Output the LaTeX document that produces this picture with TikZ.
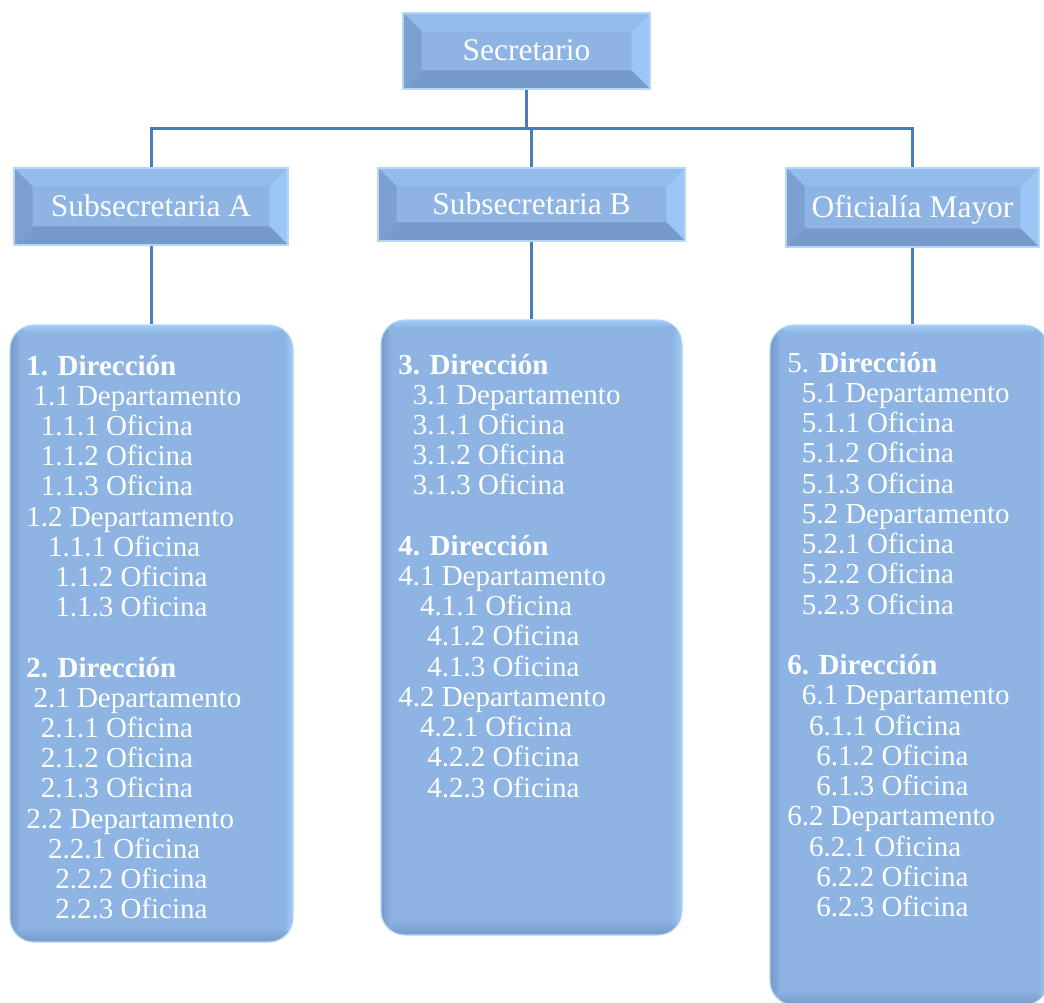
\documentclass[tikz,border=0pt]{standalone}
\usepackage{fontspec}
\setmainfont{Liberation Serif}
\usetikzlibrary{calc}

\definecolor{boxmain}{RGB}{141,180,226}
\definecolor{boxlight}{RGB}{160,203,248}
\definecolor{boxtop}{RGB}{147,188,234}
\definecolor{boxright}{RGB}{155,198,245}
\definecolor{boxdark}{RGB}{118,155,202}
\definecolor{boxleft}{RGB}{124,160,207}
\definecolor{boxedge}{RGB}{182,214,246}
\definecolor{linkblue}{RGB}{74,126,185}

\newcommand\orgTopFont{\fontsize{23.6pt}{28pt}\selectfont}
\newcommand\orgListFont{\fontsize{21.75pt}{26pt}\selectfont}

\tikzset{
  % bevelled title box
  bevelbox/.style={rectangle, inner sep=0pt, fill=boxmain, draw=boxedge,
    line width=0.8pt, text=white, font=\orgTopFont,
    text height=15pt, text depth=0pt,
    path picture={
      \path (path picture bounding box.south west) coordinate (psw)
            (path picture bounding box.north east) coordinate (pne)
            (psw |- pne) coordinate (pnw)
            (pne |- psw) coordinate (pse);
      \fill[boxtop]   (pnw) -- (pne) -- ($(pne)+(-14pt,-14pt)$) -- ($(pnw)+(14pt,-14pt)$) -- cycle;
      \fill[boxright] (pne) -- (pse) -- ($(pse)+(-14pt,14pt)$) -- ($(pne)+(-14pt,-14pt)$) -- cycle;
      \fill[boxdark]  (pse) -- (psw) -- ($(psw)+(14pt,14pt)$) -- ($(pse)+(-14pt,14pt)$) -- cycle;
      \fill[boxleft]  (psw) -- (pnw) -- ($(pnw)+(14pt,-14pt)$) -- ($(psw)+(14pt,14pt)$) -- cycle;
    }},
  % rounded list panel
  listbox/.style={rectangle, rounded corners=18pt, inner sep=0pt, fill=boxmain,
    draw=boxedge, line width=0.8pt,
    path picture={
      \path (path picture bounding box.south west) coordinate (psw)
            (path picture bounding box.north east) coordinate (pne)
            (psw |- pne) coordinate (pnw)
            (pne |- psw) coordinate (pse);
      \shade[left color=boxdark, right color=boxmain] (psw) rectangle ($(pnw)+(9pt,0)$);
      \shade[left color=boxmain, right color=boxlight] ($(pse)+(-7pt,0)$) rectangle (pne);
      \shade[top color=boxmain, bottom color=boxdark] (psw) rectangle ($(pse)+(0,12pt)$);
      \shade[top color=boxlight, bottom color=boxmain] ($(pnw)+(0,-6pt)$) rectangle (pne);
    }},
  listtext/.style={text=white, font=\orgListFont, inner sep=0pt, anchor=base west},
  link/.style={draw=linkblue, line width=2.25pt},
}

\begin{document}
\begin{tikzpicture}[x=0.75pt, y=-0.75pt]
  \useasboundingbox (0,0) rectangle (1044,1002);
  \clip (0,0) rectangle (1044,1002);

  % title boxes
  \node[bevelbox, minimum width=185.25pt, minimum height=57pt]    (sec)  at (526.5,51)  {Secretario};
  \node[bevelbox, minimum width=205.5pt,  minimum height=57.75pt] (subA) at (151,206.5)  {Subsecretaria A};
  \node[bevelbox, minimum width=230.25pt, minimum height=54.75pt] (subB) at (531.5,204.5) {Subsecretaria B};
  \node[bevelbox, minimum width=189.75pt, minimum height=59.25pt] (subO) at (912.5,207.5) {Oficialía Mayor};

  % panels
  \node[listbox, minimum width=212.25pt, minimum height=462.75pt] (dirA) at (151.5,633.5) {};
  \node[listbox, minimum width=225.75pt, minimum height=461.25pt] (dirB) at (531.5,627.5) {};
  \node[listbox, minimum width=208.5pt,  minimum height=510pt]    (dirC) at (909,665)     {};

  % connectors
  \coordinate (bus) at (527,129);
  \draw[link] (sec.south) -- (sec.south |- bus);
  \draw[link] (subA.north) -- (subA.north |- bus) -- (subO.north |- bus) -- (subO.north);
  \draw[link] (subB.north) -- (subB.north |- bus);
  \draw[link] (subA.south) -- (subA.south |- dirA.north);
  \draw[link] (subB.south) -- (subB.south |- dirB.north);
  \draw[link] (subO.south) -- (subO.south |- dirC.north);

  % panel A text
  \foreach \ind/\txt [count=\i from 0] in {
      0/{\bfseries 1. Dirección}, 1/1.1 Departamento, 2/1.1.1 Oficina,
      2/1.1.2 Oficina, 2/1.1.3 Oficina, 0/1.2 Departamento,
      3/1.1.1 Oficina, 4/1.1.2 Oficina, 4/1.1.3 Oficina}
    \node[listtext] (ta\i) at ({26+7.25*\ind},{375+30.22*\i}) {\txt};
  \foreach \ind/\txt [count=\i from 0] in {
      0/{\bfseries 2. Dirección}, 1/2.1 Departamento, 2/2.1.1 Oficina,
      2/2.1.2 Oficina, 2/2.1.3 Oficina, 0/2.2 Departamento,
      3/2.2.1 Oficina, 4/2.2.2 Oficina, 4/2.2.3 Oficina}
    \node[listtext] (tb\i) at ({26+7.25*\ind},{677+30.22*\i}) {\txt};

  % panel B text
  \foreach \ind/\txt [count=\i from 0] in {
      0/{\bfseries 3. Dirección}, 2/3.1 Departamento, 2/3.1.1 Oficina,
      2/3.1.2 Oficina, 2/3.1.3 Oficina}
    \node[listtext] (tc\i) at ({398+7.25*\ind},{374+30.22*\i}) {\txt};
  \foreach \ind/\txt [count=\i from 0] in {
      0/{\bfseries 4. Dirección}, 0/4.1 Departamento, 3/4.1.1 Oficina,
      4/4.1.2 Oficina, 4/4.1.3 Oficina, 0/4.2 Departamento,
      3/4.2.1 Oficina, 4/4.2.2 Oficina, 4/4.2.3 Oficina}
    \node[listtext] (td\i) at ({398+7.25*\ind},{555.3+30.22*\i}) {\txt};

  % panel C text
  \foreach \ind/\txt [count=\i from 0] in {
      0/{5. \textbf{Dirección}}, 2/5.1 Departamento, 2/5.1.1 Oficina,
      2/5.1.2 Oficina, 2/5.1.3 Oficina, 2/5.2 Departamento,
      2/5.2.1 Oficina, 2/5.2.2 Oficina, 2/5.2.3 Oficina}
    \node[listtext] (te\i) at ({787+7.25*\ind},{372+30.25*\i}) {\txt};
  \foreach \ind/\txt [count=\i from 0] in {
      0/{\bfseries 6. Dirección}, 2/6.1 Departamento, 3/6.1.1 Oficina,
      4/6.1.2 Oficina, 4/6.1.3 Oficina, 0/6.2 Departamento,
      3/6.2.1 Oficina, 4/6.2.2 Oficina, 4/6.2.3 Oficina}
    \node[listtext] (tf\i) at ({787+7.25*\ind},{674.5+30.25*\i}) {\txt};
\end{tikzpicture}
\end{document}
